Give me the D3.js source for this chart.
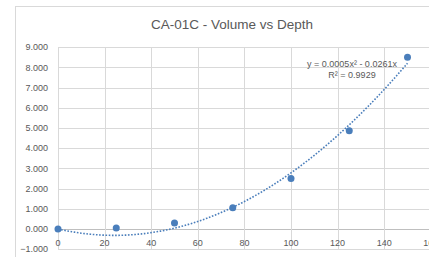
<!DOCTYPE html>
<html><head><meta charset="utf-8">
<script src="https://cdn.jsdelivr.net/npm/d3@7"></script>
<style>body{margin:0;background:#fff;overflow:hidden}svg{display:block}text{font-family:"Liberation Sans",Arial,sans-serif;fill:#595959}</style>
</head><body>
<svg id="c" width="429" height="257"></svg>
<script>
const title = "CA-01C - Volume vs Depth";
const depth = [0, 25, 50, 75, 100, 125, 150];
const volume = [0, 0.05, 0.3, 1.05, 2.5, 4.87, 8.5];
const xTicks = [0, 20, 40, 60, 80, 100, 120, 140, 160];
const yTicks = [-1, 0, 1, 2, 3, 4, 5, 6, 7, 8, 9];
const eqLabel = "y = 0.0005x² - 0.0261x";
const r2Label = "R² = 0.9929";

const svg = d3.select("#c");
svg.append("rect").attr("x",15.5).attr("y",6.5).attr("width",430).attr("height",260)
  .attr("fill","#fff").attr("stroke","#d9d9d9");

const x = d3.scaleLinear().domain([0,160]).range([58,430.8]);
const y = d3.scaleLinear().domain([-1,9]).range([249.2,47.2]);

// gridlines
svg.append("g").selectAll("line").data(yTicks).join("line")
  .attr("x1",x(0)).attr("x2",x(160)).attr("y1",d=>Math.round(y(d))+0.5).attr("y2",d=>Math.round(y(d))+0.5)
  .attr("stroke",d=>d===0?"#bfbfbf":"#d9d9d9").attr("stroke-width",1);
svg.append("g").selectAll("line").data(xTicks).join("line")
  .attr("x1",d=>Math.round(x(d))+0.5).attr("x2",d=>Math.round(x(d))+0.5).attr("y1",y(9)).attr("y2",y(-1))
  .attr("stroke","#d9d9d9").attr("stroke-width",1);

// y labels
svg.append("g").selectAll("text").data(yTicks).join("text")
  .attr("x",48).attr("y",d=>y(d)+3.2).attr("text-anchor","end").attr("font-size","9px")
  .text(d=>d3.format(".3f")(d));
// x labels
svg.append("g").selectAll("text").data(xTicks).join("text")
  .attr("x",d=>x(d)).attr("y",246).attr("text-anchor","middle").attr("font-size","9px")
  .text(d=>d);

// title
svg.append("text").attr("x",232).attr("y",29).attr("text-anchor","middle").attr("font-size","13.5px").text(title);

// least squares fit y = a x^2 + b x
let s4=0,s3=0,s2=0,s2y=0,s1y=0;
depth.forEach((d,i)=>{const v=volume[i];s4+=d**4;s3+=d**3;s2+=d*d;s2y+=d*d*v;s1y+=d*v;});
const det=s4*s2-s3*s3;
const a=(s2y*s2-s3*s1y)/det, b=(s4*s1y-s3*s2y)/det;
const tx=d3.range(0,150.01,1);
svg.append("path").datum(tx)
  .attr("d",d3.line().x(d=>x(d)).y(d=>y(a*d*d+b*d)))
  .attr("fill","none").attr("stroke","#4a7ebb").attr("stroke-width",1.6).attr("stroke-dasharray","1.6,1.6");

// points
svg.append("g").selectAll("circle").data(depth).join("circle")
  .attr("cx",d=>x(d)).attr("cy",(d,i)=>y(volume[i])).attr("r",3.5).attr("fill","#4a7ebb");

// labels
svg.append("text").attr("x",352).attr("y",67).attr("text-anchor","middle").attr("font-size","9px").text(eqLabel);
svg.append("text").attr("x",352).attr("y",77.5).attr("text-anchor","middle").attr("font-size","9px").text(r2Label);
</script>
</body></html>
